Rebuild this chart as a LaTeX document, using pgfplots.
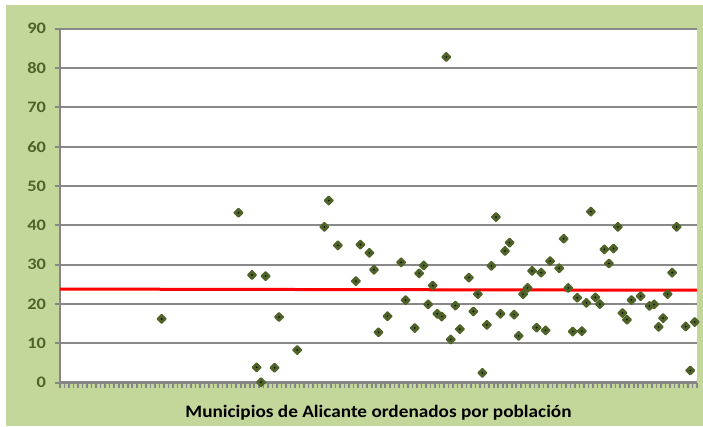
\documentclass[border=0pt]{standalone}
\usepackage{fontspec}
\setmainfont{Carlito}
\newfontfamily\tickfont[FakeStretch=1.15]{Carlito}
\newfontfamily\titlefont[FakeStretch=1.1]{Carlito}
\usepackage{pgfplots}
\usepackage{pgfplotstable}
\pgfplotsset{compat=1.18}
\definecolor{bggreen}{HTML}{C4D79B}
\definecolor{olive}{HTML}{4F6228}
\definecolor{gridgray}{HTML}{898989}
\definecolor{axisgray}{HTML}{868686}
\definecolor{dotblue}{HTML}{1F3864}
\pgfplotstableread{
x y
23 16.2
40 43.2
43 27.4
44 3.9
45 0.1
46 27.1
48 3.8
49 16.7
53 8.3
59 39.6
60 46.3
62 34.9
66 25.8
67 35.1
69 33.0
70 28.7
71 12.8
73 16.9
76 30.6
77 21.0
79 13.9
80 27.8
81 29.8
82 19.9
83 24.7
84 17.5
85 16.8
86 82.8
87 11.0
88 19.6
89 13.6
91 26.7
92 18.1
93 22.5
94 2.5
95 14.7
96 29.7
97 42.1
98 17.5
99 33.5
100 35.6
101 17.3
102 11.9
103 22.5
104 24.1
105 28.4
106 14.0
107 28.0
108 13.3
109 30.9
111 29.1
112 36.6
113 24.1
114 13.0
115 21.6
116 13.1
117 20.3
118 43.5
119 21.7
120 20.0
121 33.9
122 30.3
123 34.1
124 39.6
125 17.7
126 16.0
127 21.0
129 22.0
131 19.5
132 19.9
133 14.2
134 16.4
135 22.5
136 28.0
137 39.6
139 14.3
140 3.1
141 15.4
}\datatable
\begin{document}
\begin{tikzpicture}
\useasboundingbox (0,0) rectangle (703pt,426pt);
\fill[white] (0,0) rectangle (703pt,426pt);
\fill[bggreen] (6pt,0) rectangle (703pt,421pt);
\begin{axis}[
  at={(60pt,43.3pt)}, anchor=south west,
  scale only axis, width=637pt, height=354.1pt,
  xmin=0.5, xmax=141.5, ymin=0, ymax=90,
  axis background/.style={fill=white},
  axis lines=left,
  axis line style={-, draw=axisgray, line width=2.6pt},
  ytick={0,10,...,90},
  xtick={0.5,1.5,...,141.5},
  xticklabels={},
  tick align=outside,
  major tick length=5.5pt,
  xtick style={draw=axisgray, line width=1.6pt},
  ytick style={draw=axisgray, line width=2pt},
  ymajorgrids,
  grid style={draw=gridgray, line width=2pt},
  /pgf/number format/assume math mode=true,
  yticklabel style={font=\tickfont\fontsize{16}{18}\selectfont\bfseries, text=olive, anchor=east, xshift=-5pt},
  xlabel={Municipios de Alicante ordenados por población},
  xlabel style={font=\titlefont\fontsize{17.5}{20}\selectfont\bfseries, text=black, at={(axis description cs:0.5,0)}, anchor=base, yshift=-34.3pt},
  clip=false,
]
\addplot[draw=red, line width=3pt] coordinates {(0.5,23.8) (141.5,23.5)};
\addplot[only marks, mark=square*, mark size=2.9pt,
  mark options={rotate=45, fill=olive, draw=olive, line width=1.8pt, line join=round}] table[x=x,y=y] {\datatable};
\addplot[only marks, mark=*, mark size=0.6pt, mark options={fill=dotblue, draw=none}] table[x=x,y=y] {\datatable};
\end{axis}
\end{tikzpicture}
\end{document}
